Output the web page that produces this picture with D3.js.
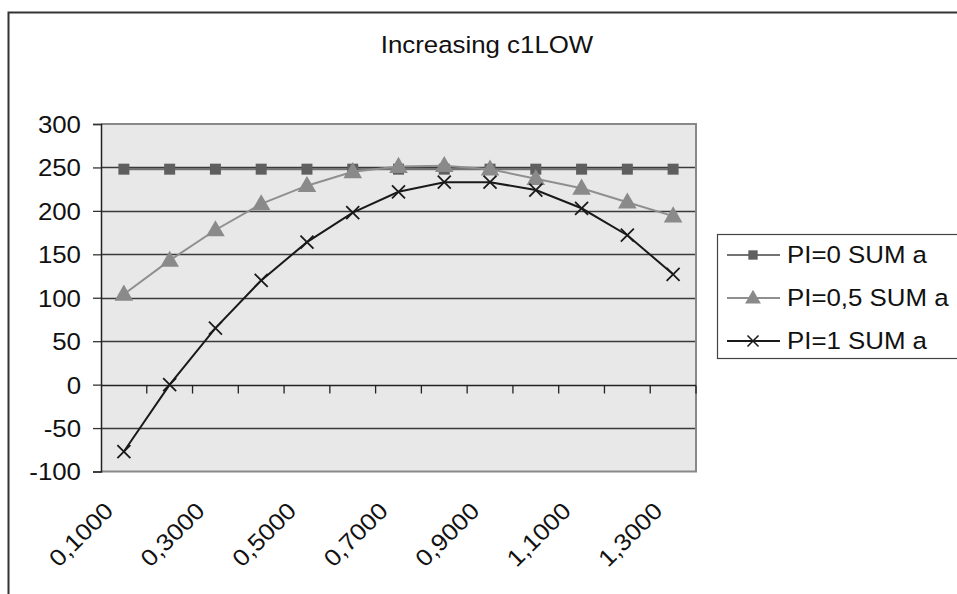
<!DOCTYPE html>
<html>
<head>
<meta charset="utf-8">
<script src="https://cdn.jsdelivr.net/npm/d3@7"></script>
<style>
  html, body { margin: 0; padding: 0; background: #fff; }
  svg { display: block; font-family: "Liberation Sans", Arial, sans-serif; }
</style>
</head>
<body>
<svg id="chart" width="957" height="594"></svg>
<script>
// Category values along the x axis (c1LOW)
const categories = [0.1, 0.2, 0.3, 0.4, 0.5, 0.6, 0.7, 0.8, 0.9, 1.0, 1.1, 1.2, 1.3];
// Series values
const pi0 = [248, 248, 248, 248, 248, 248, 248, 248, 248, 248, 248, 248, 248];
const pi05 = [104, 143, 178, 208, 229, 245, 251, 252, 248, 237, 226, 210, 194];
const pi1 = [-77, 0, 65, 120, 164, 198, 222, 233, 233, 224, 203, 172, 127];
const seriesNames = ["PI=0 SUM a", "PI=0,5 SUM a", "PI=1 SUM a"];
const yTicks = [-100, -50, 0, 50, 100, 150, 200, 250, 300];

const svg = d3.select("#chart");
const W = 957, H = 594;
const plot = { left: 101, right: 696, top: 124, bottom: 471.5 };
const FS = 23.5;      // base font size
const SX = 1.1;       // horizontal stretch of the text

// Outer chart frame
svg.append("path")
  .attr("d", `M8.5,${H + 5} V12.5 H${W + 5}`)
  .attr("fill", "none").attr("stroke", "#333").attr("stroke-width", 2);

// Title
svg.append("text")
  .attr("text-anchor", "middle")
  .attr("font-size", FS)
  .attr("transform", `translate(487,53) scale(${SX},1)`)
  .attr("fill", "#111")
  .text("Increasing c1LOW");

const x = d3.scaleBand().domain(categories).range([plot.left, plot.right]).padding(0);
const y = d3.scaleLinear().domain([-100, 300]).range([plot.bottom, plot.top]);
const cx = d => x(d) + x.bandwidth() / 2;

// Plot background
svg.append("rect")
  .attr("x", plot.left).attr("y", plot.top)
  .attr("width", plot.right - plot.left).attr("height", plot.bottom - plot.top)
  .attr("fill", "#e8e8e8");

// Horizontal gridlines
svg.append("g").selectAll("line").data(yTicks.filter(t => t !== -100 && t !== 300 && t !== 0))
  .join("line")
  .attr("x1", plot.left).attr("x2", plot.right)
  .attr("y1", d => Math.round(y(d)) + 0.5).attr("y2", d => Math.round(y(d)) + 0.5)
  .attr("stroke", "#3a3a3a").attr("stroke-width", 1.3);

// Plot border (top, right, bottom)
svg.append("path")
  .attr("d", `M${plot.left},${plot.top} H${plot.right} V${plot.bottom} H${plot.left}`)
  .attr("fill", "none").attr("stroke", "#888").attr("stroke-width", 2);

// Y axis
const yAxis = d3.axisLeft(y).tickValues(yTicks).tickSize(8).tickPadding(0)
  .tickFormat(d => String(d));
const gy = svg.append("g").attr("transform", `translate(${plot.left},0)`).call(yAxis);
gy.select(".domain").attr("stroke", "#222").attr("stroke-width", 1.5);
gy.selectAll(".tick line").attr("stroke", "#333").attr("stroke-width", 1.3);
gy.selectAll(".tick text")
  .attr("font-size", FS).attr("fill", "#111")
  .attr("font-family", "'Liberation Sans', Arial, sans-serif")
  .attr("x", 0)
  .attr("dy", "0.36em")
  .attr("transform", `translate(-20,0) scale(${SX},1)`);

// Category axis along y = 0 with interval tick marks
const y0 = Math.round(y(0)) + 0.5;
const gx = svg.append("g");
gx.append("line").attr("x1", plot.left).attr("x2", plot.right)
  .attr("y1", y0).attr("y2", y0).attr("stroke", "#222").attr("stroke-width", 1.3);
const boundaries = categories.slice(1).map(c => x(c)).concat([plot.right]);
gx.selectAll("line.tk").data(boundaries).join("line").attr("class", "tk")
  .attr("x1", d => d).attr("x2", d => d)
  .attr("y1", y0).attr("y2", y0 + 8)
  .attr("stroke", "#222").attr("stroke-width", 1.3);

// Rotated category labels (every other category)
const fmt = v => v.toFixed(4).replace(".", ",");
svg.append("g").selectAll("text")
  .data(categories.filter((c, i) => i % 2 === 0))
  .join("text")
  .attr("transform", d => `translate(${cx(d) - 15},${plot.bottom + 35}) rotate(-45) scale(${SX},1)`)
  .attr("text-anchor", "end")
  .attr("dy", "0.35em")
  .attr("font-size", FS).attr("fill", "#111")
  .text(fmt);

// Series drawing
const line = d3.line().x((d, i) => cx(categories[i])).y(d => y(d));
const sq = d3.symbol().type(d3.symbolSquare).size(121);
const tri = d3.symbol().type(d3.symbolTriangle).size(150);

const seriesDefs = [
  { values: pi0, stroke: "#737373", width: 2.2, marker: "square", fill: "#5f5f5f" },
  { values: pi05, stroke: "#8f8f8f", width: 2, marker: "triangle", fill: "#8a8a8a" },
  { values: pi1, stroke: "#1a1a1a", width: 2, marker: "x", fill: "#1a1a1a" }
];

function drawMarker(g, type, fill) {
  if (type === "square") {
    g.append("path").attr("d", sq()).attr("fill", fill);
  } else if (type === "triangle") {
    g.append("path").attr("d", tri()).attr("fill", fill).attr("transform", "translate(0,1)");
  } else {
    g.append("path").attr("d", "M-6.5,-6.5L6.5,6.5M-6.5,6.5L6.5,-6.5")
      .attr("stroke", fill).attr("stroke-width", 1.8).attr("fill", "none");
  }
}

seriesDefs.forEach(s => {
  svg.append("path").datum(s.values)
    .attr("d", line).attr("fill", "none")
    .attr("stroke", s.stroke).attr("stroke-width", s.width);
  svg.append("g").selectAll("g").data(s.values).join("g")
    .attr("transform", (d, i) => `translate(${cx(categories[i])},${y(d)})`)
    .each(function () { drawMarker(d3.select(this), s.marker, s.fill); });
});

// Legend
const legend = svg.append("g");
legend.append("rect")
  .attr("x", 717.5).attr("y", 234.5).attr("width", 260).attr("height", 124)
  .attr("fill", "#fff").attr("stroke", "#444").attr("stroke-width", 1.2);
const legendY = [255, 298, 341];
seriesDefs.forEach((s, i) => {
  const g = legend.append("g").attr("transform", `translate(0,${legendY[i]})`);
  g.append("line").attr("x1", 727).attr("x2", 780).attr("y1", 0).attr("y2", 0)
    .attr("stroke", s.stroke).attr("stroke-width", s.width);
  const m = g.append("g").attr("transform", "translate(753,0) scale(0.85)");
  drawMarker(m, s.marker, s.fill);
  g.append("text").attr("dy", "0.36em")
    .attr("font-size", FS).attr("fill", "#111")
    .attr("transform", `translate(787,0) scale(${SX},1)`)
    .text(seriesNames[i]);
});
</script>
</body>
</html>
